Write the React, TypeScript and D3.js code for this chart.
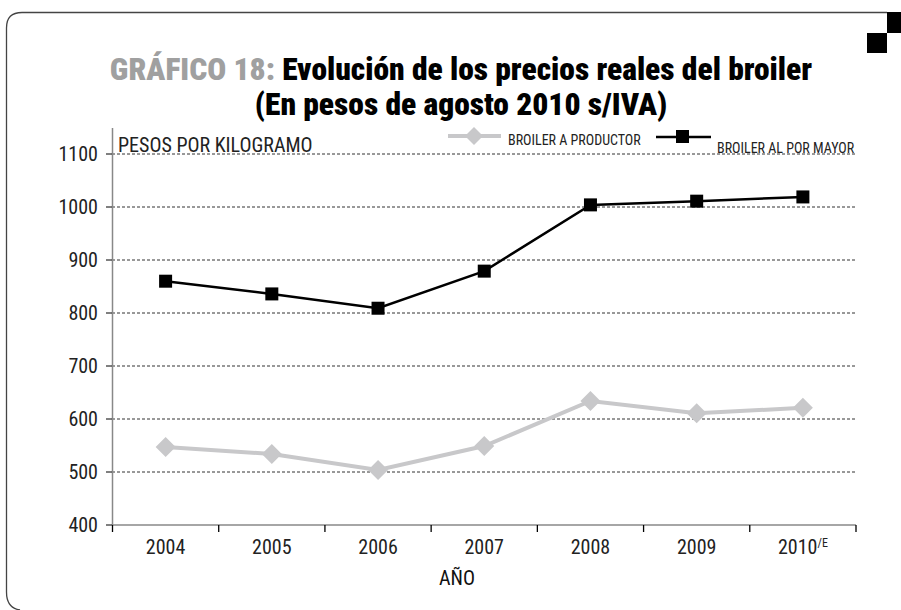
import React from "react";
import * as d3 from "d3";

const years = ["2004", "2005", "2006", "2007", "2008", "2009", "2010"];
const productor = [547, 534, 504, 549, 634, 611, 621];
const mayor = [860, 836, 809, 879, 1004, 1011, 1019];
const yTicks = [400, 500, 600, 700, 800, 900, 1000, 1100];

const W = 901;
const H = 610;
const FONT = "'Roboto', sans-serif";
const COND: React.CSSProperties = { fontStretch: "condensed" };

export default function App() {
  const x = d3.scaleBand<string>().domain(years).range([112.5, 856]);
  const y = d3.scaleLinear().domain([400, 1100]).range([525, 154]);
  const cx = (d: string) => (x(d) as number) + x.bandwidth() / 2;
  const line = d3
    .line<number>()
    .x((_, i) => cx(years[i]))
    .y((v) => y(v));
  const diamond = (px: number, py: number, r: number) =>
    `M${px},${py - r}L${px + r},${py}L${px},${py + r}L${px - r},${py}Z`;

  return (
    <svg width={W} height={H} style={{ position: "absolute", left: 0, top: 0 }} fontFamily={FONT}>
      <rect width={W} height={H} fill="#fff" />
      {/* frame */}
      <path
        d="M887,12.5 L22,12.5 Q6.5,12.5 6.5,28 L6.5,592 Q6.5,608 20,610"
        fill="none"
        stroke="#444"
        strokeWidth={1.3}
      />
      <rect x={887} y={12} width={14} height={21} fill="#000" />
      <rect x={867} y={33} width={20} height={20} fill="#000" />

      {/* title */}
      <text x={461} y={80} textAnchor="middle" fontSize={31.5} fontWeight={900} style={COND}>
        <tspan fill="#a0a0a0">GRÁFICO 18: </tspan>
        <tspan fill="#000">Evolución de los precios reales del broiler</tspan>
      </text>
      <text x={461} y={115} textAnchor="middle" fontSize={31.5} fontWeight={900} fill="#000" style={COND}>
        (En pesos de agosto 2010 s/IVA)
      </text>

      {/* gridlines */}
      {yTicks.filter((t) => t > 400).map((t) => (
        <line key={t} x1={112} x2={856} y1={y(t)} y2={y(t)} stroke="#333" strokeWidth={1} strokeDasharray="3,2" />
      ))}
      {/* y axis */}
      <line x1={112.5} x2={112.5} y1={128} y2={525} stroke="#888" strokeWidth={1.5} />
      {yTicks.map((t) => (
        <g key={t}>
          <line x1={106} x2={112} y1={y(t)} y2={y(t)} stroke="#000" strokeWidth={1} />
          <text x={98} y={y(t) + 7} textAnchor="end" fontSize={20} fill="#222" style={COND}>
            {t}
          </text>
        </g>
      ))}
      {/* x axis */}
      <line x1={112} x2={856} y1={525} y2={525} stroke="#888" strokeWidth={1.5} />
      {[...years.map((d) => x(d) as number), 856].map((px, i) => (
        <line key={i} x1={px} x2={px} y1={525} y2={532} stroke="#000" strokeWidth={1.3} />
      ))}
      {years.map((d, i) => (
        <text key={d} x={cx(d)} y={554} textAnchor="middle" fontSize={20} fill="#222" style={COND}>
          {d}
          {i === years.length - 1 && (
            <tspan fontSize={12} dy={-7}>
              /E
            </tspan>
          )}
        </text>
      ))}
      <text x={457} y={585} textAnchor="middle" fontSize={20} fill="#111" style={COND}>
        AÑO
      </text>
      <text x={118} y={152} fontSize={20} fill="#222" style={COND}>
        PESOS POR KILOGRAMO
      </text>

      {/* series */}
      <path d={line(productor) || ""} fill="none" stroke="#c8c8ca" strokeWidth={4} />
      {productor.map((v, i) => (
        <path key={i} d={diamond(cx(years[i]), y(v), 10)} fill="#c8c8ca" />
      ))}
      <path d={line(mayor) || ""} fill="none" stroke="#000" strokeWidth={2.5} />
      {mayor.map((v, i) => (
        <rect key={i} x={cx(years[i]) - 6.5} y={y(v) - 6.5} width={13} height={13} fill="#000" />
      ))}

      {/* legend */}
      <line x1={448} x2={501} y1={136} y2={136} stroke="#c8c8ca" strokeWidth={4} />
      <path d={diamond(474, 136, 9)} fill="#c8c8ca" />
      <text x={508} y={145} fontSize={14} fill="#222" style={COND}>
        BROILER A PRODUCTOR
      </text>
      <line x1={656} x2={711} y1={137} y2={137} stroke="#000" strokeWidth={2.5} />
      <rect x={676} y={130} width={13} height={13} fill="#000" />
      <text x={717} y={153} fontSize={14} fill="#222" style={COND}>
        BROILER AL POR MAYOR
      </text>
    </svg>
  );
}
